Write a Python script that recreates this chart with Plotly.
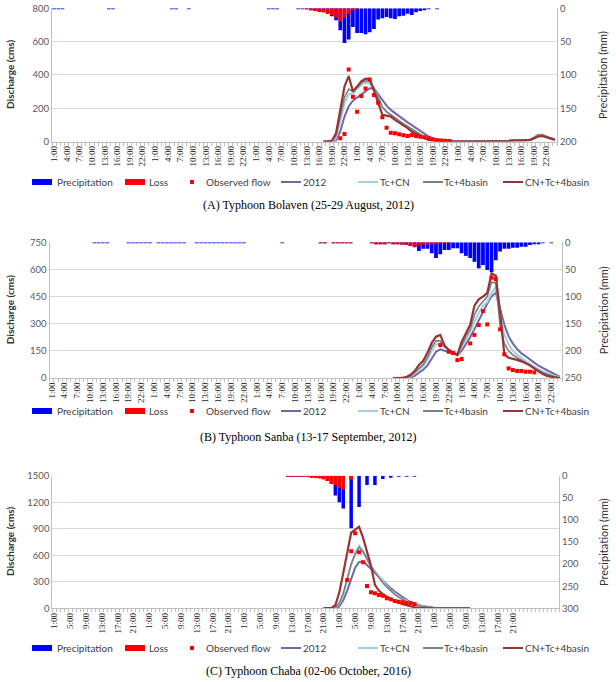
import plotly.graph_objects as go

# ======================= DATA =======================
# ---- Panel A : Typhoon Bolaven (25-29 August, 2012), hourly, 120 categories ----
A_n_cat = 120
A_tick_step = 3
A_tick_labels = ["1:00", "4:00", "7:00", "10:00", "13:00", "16:00", "19:00", "22:00"] * 5

A_precip_hours = [0, 1, 2, 13, 14, 28, 29, 32, 51, 52, 53, 58, 59,
                  60, 61, 62, 63, 64, 65, 66, 67, 68, 69, 70, 71, 72, 73, 74, 75, 76, 77, 78, 79,
                  80, 81, 82, 83, 84, 85, 86, 87, 88, 89, 91]
A_precip = [0.8, 0.8, 0.8, 0.8, 0.8, 0.8, 0.8, 0.8, 0.8, 0.8, 0.8, 0.8, 0.8,
            1, 3, 4, 5, 6, 8, 12, 18, 33, 52, 47, 28, 37, 37, 39, 36, 31, 17, 15, 13,
            15, 16, 12, 11, 8, 10, 6, 4, 2, 1, 1]
A_loss_hours = [60, 61, 62, 63, 64, 65, 66, 67, 68, 69, 70, 71, 72]
A_loss = [1, 3, 4, 5, 6, 8, 10, 14, 20, 14, 8, 3, 1]

A_obs_hours = list(range(68, 95))
A_obs = [19, 45, 433, 269, 179, 273, 319, 373, 279, 233, 145, 83, 53, 49, 43,
         37, 33, 39, 33, 29, 25, 20, 12, 8, 6, 4, 3]

A_sim_start = 64
A_2012 = [0, 0, 0, 5, 60, 150, 210, 245, 265, 280, 300, 320, 318, 285, 245, 215, 190, 170, 150, 132,
          115, 98, 82, 64, 46, 30, 20, 12, 6, 3, 1,
          0, 0, 0, 0, 0, 0, 0, 0, 0, 0, 0, 0, 0,
          4, 8, 9, 6, 6, 10, 22, 36, 38, 28, 18, 12]
A_TcCN = [0, 0, 2, 20, 120, 230, 285, 290, 315, 340, 353, 349, 319, 262, 210, 180, 160, 140, 120, 105,
          89, 73, 55, 40, 26, 14, 7, 3, 1, 0,
          0, 0, 0, 0, 0, 0, 0, 0, 0, 0, 0, 0, 0, 0,
          3, 6, 7, 5, 5, 8, 18, 30, 33, 24, 15, 10]
A_Tc4 = [0, 0, 3, 35, 150, 265, 315, 300, 325, 352, 365, 362, 322, 262, 205, 178, 162, 143, 124, 108,
         91, 74, 56, 40, 26, 15, 8, 4, 1, 0,
         0, 0, 0, 0, 0, 0, 0, 0, 0, 0, 0, 0, 0, 0,
         4, 8, 9, 6, 6, 10, 24, 40, 42, 30, 20, 14]
A_CNTc4 = [0, 0, 5, 50, 190, 330, 393, 300, 330, 362, 378, 375, 305, 232, 160, 155, 150, 130, 115, 100,
           80, 60, 45, 30, 20, 10, 5, 2, 0, 0,
           0, 0, 0, 0, 0, 0, 0, 0, 0, 0, 0, 0, 0, 0,
           3, 6, 7, 5, 5, 8, 18, 30, 33, 24, 15, 10]

# ---- Panel B : Typhoon Sanba (13-17 September, 2012), hourly, 120 categories ----
B_n_cat = 120
B_tick_step = 3
B_tick_labels = ["1:00", "4:00", "7:00", "10:00", "13:00", "16:00", "19:00", "22:00"] * 5

B_precip_hours = [10, 11, 12, 13, 18, 19, 20, 21, 22, 23, 25, 26, 27, 28, 29, 30, 31,
                  34, 35, 36, 37, 38, 39, 40, 41, 42, 43, 44, 45, 54, 63, 64, 66, 67, 68, 69, 70,
                  75, 76, 77, 78, 79, 80, 81, 82, 83, 84, 85, 86, 87, 88, 89, 90, 91, 92, 93, 94,
                  95, 96, 97, 98, 99, 100, 101, 102, 103, 104, 105, 106, 107, 108, 109, 110, 111,
                  112, 113, 114, 115, 117]
B_precip = [0.7, 0.7, 0.7, 0.7, 0.7, 0.7, 0.7, 0.7, 0.7, 0.7, 0.7, 0.7, 0.7, 0.7, 0.7, 0.7, 0.7,
            0.7, 0.7, 0.7, 0.7, 0.7, 0.7, 0.7, 0.7, 0.7, 0.7, 0.7, 0.7, 0.7, 1.5, 1.5, 1, 1, 1, 1, 1,
            1, 2, 2, 2, 1, 2, 3, 4, 5, 7, 9, 16, 12, 12, 20, 29, 22, 14, 14, 11,
            11, 20, 25, 29, 36, 48, 42, 51, 55, 33, 17, 12, 12, 10, 10, 8, 8,
            5, 3, 3, 1, 1]
B_loss_hours = [63, 64, 66, 67, 68, 69, 70,
                75, 76, 77, 78, 79, 80, 81, 82, 83, 84, 85, 86, 87, 88, 89, 90, 91, 92, 93]
B_loss = [1.5, 1.5, 1, 1, 1, 1, 1,
          1, 2, 2, 2, 1, 2, 3, 4, 5, 7, 8, 6, 4, 3, 2, 2, 1, 1, 1]

B_obs_hours = [91, 93, 94, 95, 96, 98, 99, 100, 101, 102, 103, 104, 105, 106, 107, 108, 109, 110,
               111, 112, 113]
B_obs = [182, 145, 138, 99, 105, 191, 238, 293, 370, 296, 554, 547, 269, 131, 53, 44, 39, 39,
         35, 35, 31]

B_sim_start = 80
B_2012 = [0, 0, 0, 0, 3, 12, 28, 45, 70, 110, 145, 158, 150, 140, 133, 127, 150, 185, 225, 270,
          320, 365, 410, 450, 472, 390, 295, 230, 190, 160, 136, 120, 100, 85, 68, 55, 42, 30, 18, 8]
B_TcCN = [0, 0, 0, 2, 8, 25, 45, 65, 100, 150, 185, 190, 170, 155, 140, 130, 170, 215, 255, 310,
          360, 400, 420, 470, 505, 360, 240, 185, 150, 128, 108, 93, 78, 62, 48, 36, 26, 17, 10, 4]
B_Tc4 = [0, 0, 0, 3, 10, 30, 55, 75, 115, 170, 205, 205, 172, 155, 140, 128, 180, 230, 270, 350,
         395, 425, 450, 530, 525, 290, 190, 150, 128, 112, 98, 85, 70, 55, 42, 30, 20, 12, 6, 2]
B_CNTc4 = [0, 0, 0, 5, 18, 38, 72, 95, 140, 195, 228, 238, 180, 155, 142, 127, 200, 250, 295, 400,
           435, 450, 470, 578, 565, 365, 130, 112, 108, 100, 92, 82, 70, 52, 36, 22, 12, 6, 2, 0]

# ---- Panel C : Typhoon Chaba (02-06 October, 2016), hourly, 128 categories ----
C_n_cat = 128
C_tick_step = 4
C_tick_labels = ["1:00", "5:00", "9:00", "13:00", "17:00", "21:00"] * 5

C_precip_hours = [59, 60, 61, 62, 63, 64, 65, 66, 67, 68, 69, 70, 71, 72, 73,
                  75, 77, 79, 81, 83, 85, 87, 89, 91]
C_precip = [0.5, 1, 1, 1.5, 2, 2, 3, 4, 6, 8, 12, 18, 45, 60, 74,
            119, 71, 21, 21, 7.5, 3, 1.5, 1, 1]
C_loss_hours = [59, 60, 61, 62, 63, 64, 65, 66, 67, 68, 69, 70, 71, 72, 73, 75]
C_loss = [0.5, 1, 1, 1.5, 2, 2, 3, 4, 6, 8, 12, 18, 22, 28, 31, 9]

C_obs_hours = list(range(74, 92))
C_obs = [320, 645, 850, 633, 520, 252, 181, 170, 151, 143, 113, 102, 83, 75, 68, 56, 56, 45]

C_sim_start = 68
C_2012 = [0, 0, 0, 2, 20, 90, 200, 330, 460, 525, 530, 490, 445, 400, 355, 310, 265, 225, 190,
          155, 122, 95, 72, 53, 38, 26, 17, 10, 5, 2, 1, 0, 0, 0, 0, 0, 0, 0]
C_TcCN = [0, 0, 2, 10, 50, 150, 320, 490, 620, 710, 650, 560, 480, 420, 360, 300, 250, 205, 165,
          135, 105, 80, 62, 45, 32, 22, 13, 7, 3, 1, 0, 0, 0, 0, 0, 0, 0, 0]
C_Tc4 = [0, 0, 3, 15, 60, 170, 340, 500, 610, 690, 640, 550, 470, 405, 345, 290, 240, 195, 158,
         126, 98, 75, 57, 41, 29, 19, 11, 6, 2, 0, 0, 0, 0, 0, 0, 0, 0, 0]
C_CNTc4 = [0, 0, 5, 35, 180, 400, 620, 855, 890, 922, 800, 640, 480, 265, 200, 160, 130, 105, 82,
           62, 47, 35, 22, 12, 5, 1, 0, 0, 0, 0, 0, 0, 0, 0, 0, 0, 0, 0]

# axis settings per panel (left discharge, right precipitation)
Q_max = [800, 750, 1500]
Q_step = [200, 150, 300]
P_max = [200, 250, 300]
P_step = [50, 50, 50]

series_names = ["Precipitation", "Loss", "Observed flow", "2012", "Tc+CN", "Tc+4basin",
                "CN+Tc+4basin"]
captions = ["(A) Typhoon Bolaven (25-29 August, 2012)",
            "(B) Typhoon Sanba (13-17 September, 2012)",
            "(C) Typhoon Chaba (02-06 October, 2016)"]

# ======================= STYLE / LAYOUT =======================
W, H = 616, 682
# plot area boxes in pixels: (left, right, top, bottom)
boxes = [(52, 557, 8.3, 141.5), (49.5, 562, 242.3, 378), (52.3, 559, 475.7, 608.3)]
legend_y_px = [182, 411, 648]
caption_y_px = [205, 437, 671]
# legend key left edge / text left edge (pixels) per entry
legend_key_x = [32, 125, 190, 281, 358, 423, 503]
legend_key_w = [20, 20, 4, 20, 20, 20, 20]
legend_text_x = [55, 147, 204, 301, 378, 442, 523]

COL_PREC = "#0000FF"
COL_LOSS = "#FF0000"
COL_OBS = "#FF0000"
COL_2012 = "#7466A8"
COL_TCCN = "#9DD0E3"
COL_TC4 = "#7F7F7F"
COL_CNTC4 = "#963634"
GRID = "#D9D9D9"
AXIS = "#BFBFBF"
TXT = "#404040"
SANS = "Lato, 'Open Sans', sans-serif"
SERIF = "'Liberation Serif', 'Times New Roman', serif"
key_colors = [COL_PREC, COL_LOSS, COL_OBS, COL_2012, COL_TCCN, COL_TC4, COL_CNTC4]
key_kinds = ["bar", "bar", "marker", "line", "line", "line", "line"]

panels = [
    dict(n=A_n_cat, step=A_tick_step, labels=A_tick_labels,
         ph=A_precip_hours, p=A_precip, lh=A_loss_hours, l=A_loss,
         oh=A_obs_hours, o=A_obs, s0=A_sim_start,
         sims=[("2012", A_2012, COL_2012, 2), ("Tc+CN", A_TcCN, COL_TCCN, 2),
               ("Tc+4basin", A_Tc4, COL_TC4, 1.6), ("CN+Tc+4basin", A_CNTc4, COL_CNTC4, 2.2)]),
    dict(n=B_n_cat, step=B_tick_step, labels=B_tick_labels,
         ph=B_precip_hours, p=B_precip, lh=B_loss_hours, l=B_loss,
         oh=B_obs_hours, o=B_obs, s0=B_sim_start,
         sims=[("2012", B_2012, COL_2012, 2), ("Tc+CN", B_TcCN, COL_TCCN, 2),
               ("Tc+4basin", B_Tc4, COL_TC4, 1.6), ("CN+Tc+4basin", B_CNTc4, COL_CNTC4, 2.2)]),
    dict(n=C_n_cat, step=C_tick_step, labels=C_tick_labels,
         ph=C_precip_hours, p=C_precip, lh=C_loss_hours, l=C_loss,
         oh=C_obs_hours, o=C_obs, s0=C_sim_start,
         sims=[("2012", C_2012, COL_2012, 2), ("Tc+CN", C_TcCN, COL_TCCN, 2),
               ("Tc+4basin", C_Tc4, COL_TC4, 1.6), ("CN+Tc+4basin", C_CNTc4, COL_CNTC4, 2.2)]),
]

fig = go.Figure()
layout = dict(width=W, height=H, margin=dict(l=0, r=0, t=0, b=0),
              paper_bgcolor="white", plot_bgcolor="white",
              barmode="overlay", bargap=0.12, showlegend=False,
              font=dict(family=SANS, color=TXT))
annotations = []
shapes = []


def px_x(v):
    return v / W


def px_y(v):
    return 1 - v / H


for k, pn in enumerate(panels):
    xa = "x" if k == 0 else f"x{k + 1}"
    yl = "y" if k == 0 else f"y{2 * k + 1}"
    yr = f"y{2 * k + 2}"
    L, R, T, B = boxes[k]
    xdom = [L / W, R / W]
    ydom = [1 - B / H, 1 - T / H]

    # precipitation & loss bars (reversed right axis)
    fig.add_trace(go.Bar(x=pn["ph"], y=pn["p"], name="Precipitation", marker_color=COL_PREC,
                         marker_line_width=0, xaxis=xa, yaxis=yr))
    fig.add_trace(go.Bar(x=pn["lh"], y=pn["l"], name="Loss", marker_color=COL_LOSS,
                         marker_line_width=0, xaxis=xa, yaxis=yr))
    # simulated hydrographs
    for j, (nm, vals, col, wd) in enumerate(pn["sims"]):
        xs = list(range(pn["s0"], pn["s0"] + len(vals)))
        fig.add_trace(go.Scatter(x=xs, y=vals, mode="lines", name=nm,
                                 line=dict(color=col, width=wd), xaxis=xa, yaxis=yl))
    # observed flow
    fig.add_trace(go.Scatter(x=pn["oh"], y=pn["o"], mode="markers", name="Observed flow",
                             marker=dict(color=COL_OBS, size=4, symbol="square"),
                             xaxis=xa, yaxis=yl))

    tickvals = list(range(0, pn["step"] * len(pn["labels"]), pn["step"]))
    xkey = "xaxis" if k == 0 else f"xaxis{k + 1}"
    layout[xkey] = dict(domain=xdom, anchor=yl, range=[-0.5, pn["n"] - 0.5],
                        tickmode="array", tickvals=tickvals, ticktext=pn["labels"],
                        tickangle=-90, ticks="", showgrid=False, zeroline=False,
                        showline=True, linecolor=AXIS, linewidth=1,
                        tickfont=dict(family=SERIF, size=9, color="#222"),
                        minor=dict(tickmode="linear", tick0=-0.5, dtick=1, ticks="outside",
                                   ticklen=3, tickcolor=AXIS, showgrid=False),
                        automargin=False, fixedrange=True)
    ylkey = "yaxis" if k == 0 else f"yaxis{2 * k + 1}"
    yrkey = f"yaxis{2 * k + 2}"
    layout[ylkey] = dict(domain=ydom, anchor=xa, range=[0, Q_max[k]], dtick=Q_step[k], tick0=0,
                         showgrid=True, gridcolor=GRID, gridwidth=1, zeroline=False,
                         showline=True, linecolor=AXIS, linewidth=1, ticks="",
                         tickfont=dict(family=SANS, size=9.5, color="#595959"),
                         automargin=False, fixedrange=True)
    layout[yrkey] = dict(overlaying=yl, anchor=xa, side="right",
                         range=[P_max[k], 0], dtick=P_step[k], tick0=0,
                         showgrid=False, zeroline=False, showline=True, linecolor=AXIS,
                         linewidth=1, ticks="",
                         tickfont=dict(family=SANS, size=9.5, color="#595959"),
                         automargin=False, fixedrange=True)

    # ---- legend row (keys drawn as shapes, labels as text) ----
    ly = legend_y_px[k]
    for e, name in enumerate(series_names):
        x0 = legend_key_x[e]
        x1 = x0 + legend_key_w[e]
        if key_kinds[e] == "bar":
            shapes.append(dict(type="rect", xref="paper", yref="paper",
                               x0=px_x(x0), x1=px_x(x1), y0=px_y(ly - 3), y1=px_y(ly + 3),
                               fillcolor=key_colors[e], line=dict(width=0)))
        elif key_kinds[e] == "marker":
            shapes.append(dict(type="rect", xref="paper", yref="paper",
                               x0=px_x(x0), x1=px_x(x1), y0=px_y(ly - 2), y1=px_y(ly + 2),
                               fillcolor=key_colors[e], line=dict(width=0)))
        else:
            shapes.append(dict(type="line", xref="paper", yref="paper",
                               x0=px_x(x0), x1=px_x(x1), y0=px_y(ly), y1=px_y(ly),
                               line=dict(color=key_colors[e], width=2)))
        annotations.append(dict(text=name, x=px_x(legend_text_x[e]), y=px_y(ly), xref="paper",
                                yref="paper", showarrow=False, xanchor="left", yanchor="middle",
                                font=dict(family=SANS, size=10, color=TXT)))

    ymid = 1 - ((T + B) / 2) / H
    annotations.append(dict(text="Discharge (cms)", x=10 / W, y=ymid, xref="paper", yref="paper",
                            textangle=-90, showarrow=False, xanchor="center", yanchor="middle",
                            font=dict(family=SANS, size=10, color="#333333", weight="bold")))
    annotations.append(dict(text="Precipitation (mm)", x=603 / W, y=ymid, xref="paper",
                            yref="paper", textangle=-90, showarrow=False, xanchor="center",
                            yanchor="middle",
                            font=dict(family=SANS, size=11, color="#333333")))
    annotations.append(dict(text=captions[k], x=0.5, y=1 - caption_y_px[k] / H, xref="paper",
                            yref="paper", showarrow=False, xanchor="center", yanchor="middle",
                            font=dict(family=SERIF, size=12, color="black")))

layout["annotations"] = annotations
layout["shapes"] = shapes
fig.update_layout(**layout)
fig.write_html("out.html")
